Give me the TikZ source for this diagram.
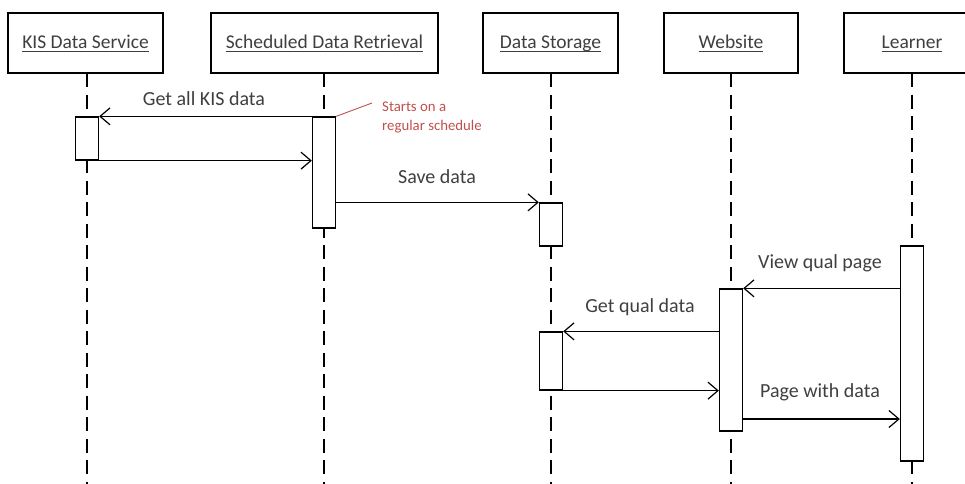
\documentclass[tikz,border=0pt]{standalone}
\usepackage{fontspec}
\setmainfont{Carlito}
\usetikzlibrary{arrows.meta}
\definecolor{txt}{HTML}{3F3F3F}
\definecolor{note}{HTML}{C0504D}
\newcommand\myul[1]{\setbox0\hbox{#1}\rlap{\rule[-3.6pt]{\wd0}{1.1pt}}\box0}
\begin{document}
\begin{tikzpicture}[x=1pt,y=-1pt,
  lane/.style={draw=black,line width=1.3pt,fill=white,minimum width=#1,minimum height=60pt,inner sep=0pt,text=txt,text height=15pt,text depth=5pt,font=\fontsize{19.5}{23}\selectfont},
  act/.style={draw=black,line width=1.3pt,fill=white,minimum width=23pt,minimum height=#1,inner sep=0pt},
  life/.style={dash pattern=on 14pt off 7.5pt,line width=1.3pt},
  msg/.style={line width=1.2pt,-{Straight Barb[length=10pt,width=17pt,line width=1.2pt]}},
  lbl/.style={anchor=base,inner sep=0pt,text=txt,font=\fontsize{20}{24}\selectfont}]
\clip (0,0) rectangle (965,483);
\useasboundingbox (0,0) rectangle (965,483);
% lanes
\node[lane=155pt] (kis) at (85.5,43) {\myul{KIS Data Service}};
\node[lane=227pt] (sdr) at (324.5,43) {\myul{Scheduled Data Retrieval}};
\node[lane=135pt] (ds) at (550.5,43) {\myul{Data Storage}};
\node[lane=134pt] (web) at (731,43) {\myul{Website}};
\node[lane=136pt] (lrn) at (912,43) {\myul{Learner}};
% lifelines
\foreach \x in {87,324,551,731,912}{
  \draw[life] (\x,73) -- (\x,485);
}
% activations
\node[act=43pt] (ka) at (87,138.5) {};
\node[act=111pt] (sa) at (324,172.5) {};
\node[act=43pt] (d1) at (551,224.5) {};
\node[act=58pt] (d2) at (551,361) {};
\node[act=142pt] (wa) at (731,360) {};
\node[act=215pt] (la) at (912,353.5) {};
% messages
\draw[msg] (sa.north west) -- (ka.north east);
\node[lbl] (l1) at (204,105) {Get all KIS data};
\draw[msg] (ka.south east) -- (sa.west |- ka.south east);
\draw[msg] (sa.east |- d1.north) -- (d1.north west);
\node[lbl] (l2) at (437,183) {Save data};
\draw[msg] (la.west |- wa.north) -- (wa.north east);
\node[lbl] (l3) at (820,268) {View qual page};
\draw[msg] (wa.west |- d2.north) -- (d2.north east);
\node[lbl] (l4) at (640,312) {Get qual data};
\draw[msg] (d2.south east) -- (wa.west |- d2.south east);
\coordinate (pw) at (0,419);
\draw[msg] (wa.east |- pw) -- (la.west |- pw);
\node[lbl] (l5) at (820,397) {Page with data};
% note
\coordinate (nc) at (372,103);
\draw[note,line width=0.9pt] (sa.north east) -- (nc);
\node[anchor=north west,inner sep=0pt,align=left,text=note,font=\fontsize{14.8}{19}\selectfont] (nt) at (382,101.5) {Starts on a\\regular schedule};
\end{tikzpicture}
\end{document}
